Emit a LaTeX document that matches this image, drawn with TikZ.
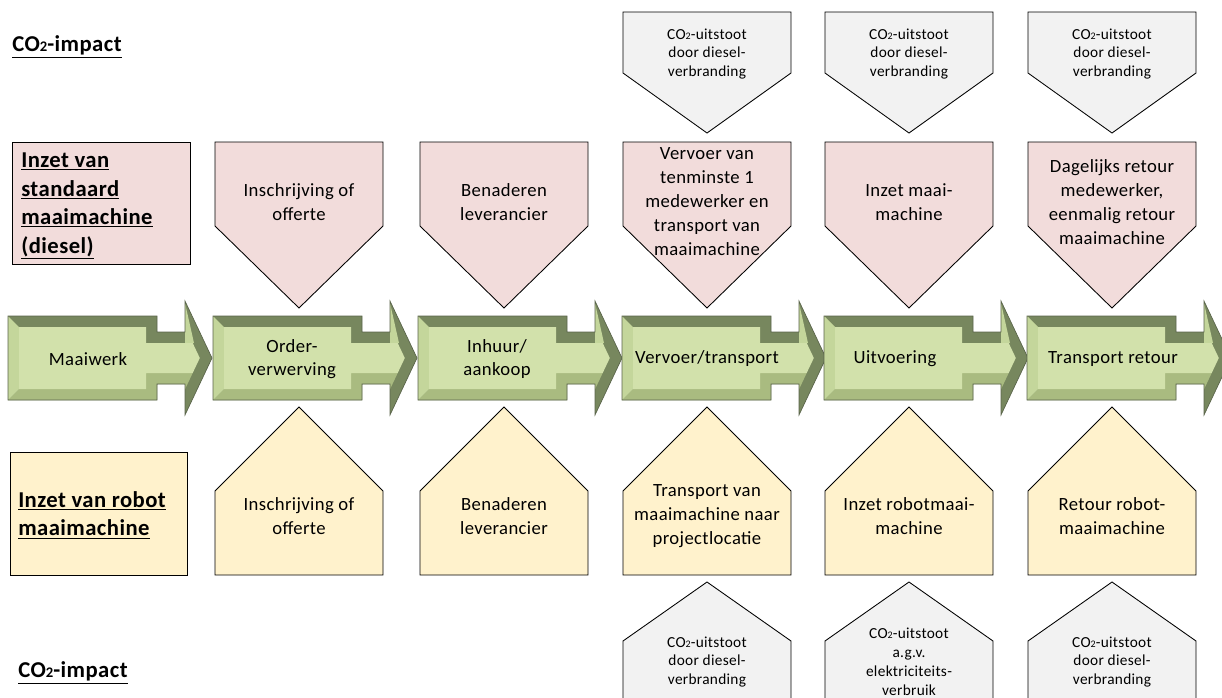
\documentclass[tikz,border=0pt]{standalone}
\usepackage{fontspec}
\setmainfont{Carlito}[LetterSpace=2.0]
\definecolor{gdark}{RGB}{119,135,94}
\definecolor{gmed}{RGB}{169,187,128}
\definecolor{glight}{RGB}{196,214,155}
\definecolor{gface}{RGB}{210,225,171}
\definecolor{gline}{RGB}{90,100,75}
\definecolor{pinkfill}{RGB}{242,220,219}
\definecolor{yelfill}{RGB}{255,242,204}
\definecolor{grayfill}{RGB}{242,242,242}
\tikzset{
  shapeline/.style={draw=black,line width=0.65pt,line join=miter},
  pinkshape/.style={shapeline,fill=pinkfill},
  yelshape/.style={shapeline,fill=yelfill},
  grayshape/.style={shapeline,fill=grayfill},
  maintext/.style={align=center,inner sep=0pt,font=\fontsize{14}{18}\selectfont},
  gtext/.style={align=center,inner sep=0pt,font=\fontsize{14}{17}\selectfont},
  smalltext/.style={align=center,inner sep=0pt,font=\fontsize{11.5}{14.2}\selectfont},
  labeltext/.style={align=left,inner sep=0pt,anchor=west,font=\bfseries\fontsize{17}{21.4}\selectfont},
  garrow/.pic={
    \fill[gdark] (0,-42) -- (149,-42) -- (149,-26) -- (177,-26) -- (177,-57) -- (204,0) -- (177,57) -- (177,26) -- (149,26) -- (149,42) -- (0,42) -- cycle;
    \fill[gmed] (0,42) -- (149,42) -- (149,26) -- (177,26) -- (177,31.3) -- (184.7,15) -- (138,15) -- (138,31) -- (11,31) -- cycle;
    \fill[glight] (0,-42) -- (11,-31) -- (11,31) -- (0,42) -- cycle;
    \fill[glight] (177,-26) -- (177,-55) -- (186,-15) -- (177,-15) -- cycle;
    \fill[gface] (11,-31) -- (138,-31) -- (138,-15) -- (184.7,-15) -- (191.8,0) -- (184.7,15) -- (138,15) -- (138,31) -- (11,31) -- cycle;
    \draw[gline,line width=0.5pt,line join=miter] (0,-42) -- (149,-42) -- (149,-26) -- (177,-26) -- (177,-57) -- (204,0) -- (177,57) -- (177,26) -- (149,26) -- (149,42) -- (0,42) -- cycle;
  }
}
\newcommand{\cotwo}{CO{\fontsize{7.5}{7.5}\selectfont 2}}
\newcommand{\cotwobig}{CO{\fontsize{11}{11}\selectfont 2}}
\begin{document}
\begin{tikzpicture}[x=0.75pt,y=-0.75pt]
\useasboundingbox (0,0) rectangle (1222,697);
\clip (0,0) rectangle (1222,697);

% CO2 impact labels
\node[labeltext] (coTop) at (12,47) {\underline{\cotwobig-impact}};
\node[labeltext] (coBot) at (18,673) {\underline{\cotwobig-impact}};

% row labels
\draw[pinkshape] (12,142) rectangle (190,264);
\node[labeltext] (labDiesel) at (21,206) {\underline{Inzet van}\\\underline{standaard}\\\underline{maaimachine}\\\underline{(diesel)}};
\draw[yelshape] (10,452) rectangle (187,575);
\node[labeltext] (labRobot) at (18,515) {\underline{Inzet van robot}\\\underline{maaimachine}};

% green process arrows
\foreach \x in {8,213,418,622,824,1027}
  \pic at (\x,358) {garrow};
\node[gtext] (g1) at (88,359) {Maaiwerk};
\node[gtext] (g2) at (292,359) {Order-\\verwerving};
\node[gtext] (g3) at (497,359) {Inhuur/\\aankoop};
\node[gtext] (g4) at (707,359) {Vervoer/transport};
\node[gtext] (g5) at (895,359) {Uitvoering};
\node[gtext] (g6) at (1113,359) {Transport retour};

% pink pentagons (down)
\foreach \x in {215,420,623,825,1028}
  \draw[pinkshape] (\x,142) -- (\x+168,142) -- (\x+168,226) -- (\x+84,308) -- (\x,226) -- cycle;
\node[maintext] (p1) at (299,202) {Inschrijving of\\offerte};
\node[maintext] (p2) at (504,202) {Benaderen\\leverancier};
\node[maintext] (p3) at (707,202) {Vervoer van\\tenminste 1\\medewerker en\\transport van\\maaimachine};
\node[maintext] (p4) at (909,202) {Inzet maai-\\machine};
\node[maintext] (p5) at (1112,202) {Dagelijks retour\\medewerker,\\eenmalig retour\\maaimachine};

% gray top pentagons
\foreach \x in {623,825,1028}
  \draw[grayshape] (\x,12) -- (\x+168,12) -- (\x+168,73) -- (\x+84,133) -- (\x,73) -- cycle;
\node[smalltext] (t3) at (707,54) {\cotwo-uitstoot\\door diesel-\\verbranding};
\node[smalltext] (t4) at (909,54) {\cotwo-uitstoot\\door diesel-\\verbranding};
\node[smalltext] (t5) at (1112,54) {\cotwo-uitstoot\\door diesel-\\verbranding};

% yellow houses (up)
\foreach \x in {215,420,623,825,1028}
  \draw[yelshape] (\x+84,407) -- (\x+168,491) -- (\x+168,575) -- (\x,575) -- (\x,491) -- cycle;
\node[maintext] (y1) at (299,516) {Inschrijving of\\offerte};
\node[maintext] (y2) at (504,516) {Benaderen\\leverancier};
\node[maintext] (y3) at (707,516) {Transport van\\maaimachine naar\\projectlocatie};
\node[maintext] (y4) at (909,516) {Inzet robotmaai-\\machine};
\node[maintext] (y5) at (1112,516) {Retour robot-\\maaimachine};

% gray bottom houses
\foreach \x in {623,825,1028}
  \draw[grayshape] (\x+84,582) -- (\x+168,641) -- (\x+168,710) -- (\x,710) -- (\x,641) -- cycle;
\node[smalltext] (b3) at (707,662) {\cotwo-uitstoot\\door diesel-\\verbranding};
\node[smalltext] (b4) at (909,662) {\cotwo-uitstoot\\a.g.v.\\elektriciteits-\\verbruik};
\node[smalltext] (b5) at (1112,662) {\cotwo-uitstoot\\door diesel-\\verbranding};
\end{tikzpicture}
\end{document}
